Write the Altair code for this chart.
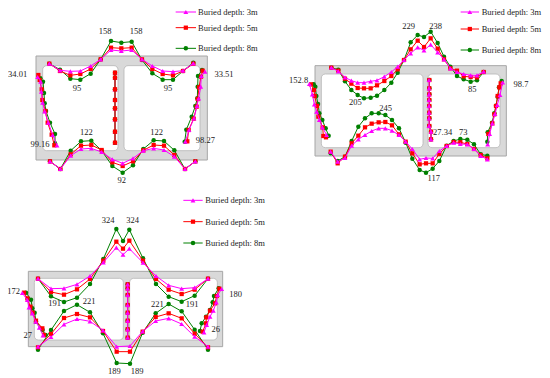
import altair as alt
import pandas as pd

# All geometry, in 3x zoomed units relative to each panel's origin.
ORIGINS = {"a": (0, 0), "b": (275, 0), "c": (0, 190)}
FONT = "Liberation Serif"
TEXT_COLOR = "#222222"
COLORS = {"3m": "#ff00ff", "5m": "#ff0000", "8m": "#008000"}
SHAPES = {"3m": "triangle-up", "5m": "square", "8m": "circle"}
SIZES = {"3m": 24, "5m": 18, "8m": 20}

# section outlines: panel, x0, x1, y0, y1
BOXES = [("a", 108, 622, 168, 480), ("b", 120, 694, 197, 468), ("c", 85, 668, 244, 470)]
VOIDS = [("a", 128, 354, 197, 452), ("a", 372, 600, 197, 452),
         ("b", 139, 444, 222, 443), ("b", 459, 675, 222, 443),
         ("c", 103, 370, 265, 450), ("c", 389, 652, 265, 450)]

# Panel a
A_TOP_X = [148, 180, 211, 241, 272, 302, 333, 364, 395, 426, 457, 488, 519, 549, 580]
A_TOP_3 = [191, 211, 214, 213, 198, 178, 150, 153, 150, 178, 198, 213, 215, 212, 190]
A_TOP_5 = [191, 213, 226, 222, 207, 178, 143, 145, 143, 178, 207, 222, 226, 213, 191]
A_TOP_8 = [191, 209, 236, 239, 221, 178, 123, 128, 125, 180, 220, 239, 239, 213, 188]
A_BOT_X = [150, 181, 212, 243, 274, 305, 337, 368, 399, 430, 461, 492, 523, 555, 586]
A_BOT_3 = [484, 507, 467, 447, 445, 456, 478, 490, 475, 452, 445, 450, 470, 507, 484]
A_BOT_5 = [484, 507, 463, 437, 435, 450, 487, 498, 484, 451, 435, 437, 465, 507, 484]
A_BOT_8 = [484, 507, 452, 424, 422, 452, 498, 518, 496, 447, 421, 423, 451, 507, 484]
A_LEFT_3 = [(113, 231), (122, 245), (124, 275), (128, 308), (134, 334), (145, 368), (158, 405), (171, 436)]
A_LEFT_5 = [(115, 225), (119, 240), (125, 268), (127, 300), (136, 333), (143, 368), (155, 404), (163, 436)]
A_LEFT_8 = [(121, 235), (129, 245), (132, 279), (134, 310), (138, 333), (150, 368), (165, 402), (165, 430)]
A_RIGHT_3 = [(615, 215), (604, 228), (602, 260), (596, 295), (591, 318), (582, 355), (567, 390), (556, 425)]
A_RIGHT_5 = [(608, 212), (603, 230), (597, 262), (593, 297), (590, 320), (581, 356), (566, 390), (562, 424)]
A_RIGHT_8 = [(606, 210), (594, 228), (593, 260), (592, 295), (586, 318), (575, 350), (559, 389), (554, 425)]
A_MID_Y = [218, 233, 268, 300, 325, 358, 395, 428]

# Panel b
B_TOP_X = [169, 190, 210, 229, 248, 267, 287, 306, 328, 349, 368, 387, 407, 428, 447, 467, 488, 507, 526, 546, 566, 587, 606, 626]
B_TOP_3 = [203, 214, 232, 242, 248, 248, 244, 241, 230, 216, 200, 180, 160, 142, 151, 134, 157, 178, 205, 216, 222, 226, 226, 215]
B_TOP_5 = [203, 212, 236, 251, 264, 265, 265, 256, 243, 228, 208, 180, 148, 122, 141, 115, 146, 178, 205, 212, 229, 231, 232, 216]
B_TOP_8 = [203, 209, 244, 270, 285, 295, 293, 287, 270, 248, 218, 180, 127, 105, 111, 95, 129, 170, 200, 228, 238, 245, 241, 216]
B_BOT_X = [167, 188, 210, 230, 250, 270, 290, 311, 331, 351, 372, 392, 412, 434, 453, 473, 493, 515, 536, 556, 577, 597, 617, 637]
B_BOT_3 = [455, 485, 474, 437, 418, 405, 393, 385, 385, 392, 405, 425, 447, 478, 474, 475, 453, 438, 428, 432, 433, 447, 468, 478]
B_BOT_5 = [455, 490, 470, 430, 407, 382, 371, 367, 366, 376, 403, 425, 460, 493, 490, 490, 462, 438, 426, 427, 432, 447, 465, 475]
B_BOT_8 = [460, 483, 470, 423, 380, 355, 340, 340, 345, 360, 385, 428, 476, 510, 518, 506, 483, 437, 423, 417, 419, 433, 463, 467]
B_LEFT_3 = [(103, 252), (112, 283), (118, 313), (125, 335), (133, 360), (142, 382), (155, 405)]
B_LEFT_5 = [(108, 253), (117, 270), (119, 288), (126, 318), (130, 350), (143, 382), (145, 408), (153, 412)]
B_LEFT_8 = [(116, 253), (121, 260), (124, 288), (129, 312), (133, 340), (142, 360), (152, 385), (161, 407)]
B_RIGHT_3 = [(683, 247), (675, 285), (667, 315), (660, 342), (652, 370), (644, 402), (638, 433)]
B_RIGHT_5 = [(677, 250), (673, 262), (668, 288), (663, 318), (658, 343), (652, 370), (640, 402)]
B_RIGHT_8 = [(680, 243), (672, 262), (668, 290), (663, 317), (658, 340), (651, 368), (638, 397), (637, 425)]
B_MID_Y = [240, 265, 283, 300, 318, 338, 355, 378, 395, 418]

# Panel c
C_TOP_X = [114, 153, 192, 231, 270, 310, 349, 369, 388, 429, 468, 506, 545, 584, 624]
C_TOP_3 = [266, 296, 295, 283, 258, 217, 173, 194, 176, 218, 258, 286, 296, 293, 266]
C_TOP_5 = [266, 306, 314, 298, 267, 212, 155, 176, 152, 212, 267, 299, 312, 299, 266]
C_TOP_8 = [266, 319, 336, 323, 282, 207, 117, 153, 119, 205, 282, 320, 335, 317, 266]
C_BOT_X = [114, 153, 192, 231, 270, 309, 350, 390, 428, 467, 506, 545, 584, 624]
C_BOT_3 = [470, 441, 403, 387, 394, 421, 470, 468, 424, 393, 385, 402, 440, 470]
C_BOT_5 = [472, 432, 384, 372, 382, 423, 485, 485, 425, 381, 370, 385, 431, 472]
C_BOT_8 = [479, 420, 363, 344, 367, 430, 519, 521, 428, 370, 342, 364, 419, 479]
C_LEFT_3 = [(67, 309), (82, 330), (87, 352), (97, 370), (107, 395), (118, 413), (129, 436)]
C_LEFT_5 = [(72, 308), (82, 325), (91, 350), (98, 368), (108, 392), (127, 415), (132, 435)]
C_LEFT_8 = [(78, 308), (93, 329), (97, 355), (104, 368), (108, 395), (128, 420), (137, 435)]
C_RIGHT_3 = [(665, 297), (653, 315), (649, 337), (640, 362), (630, 380), (620, 405), (612, 427)]
C_RIGHT_5 = [(658, 296), (650, 318), (645, 340), (630, 362), (619, 382), (618, 400), (608, 425)]
C_RIGHT_8 = [(656, 295), (642, 318), (638, 337), (630, 360), (618, 380), (605, 400), (600, 423)]
C_MID_Y = [283, 295, 315, 345, 368, 392, 418, 443]

# value labels: panel, x, y, text
LABELS = [
    ("a", 315, 92, "158"), ("a", 408, 92, "158"), ("a", 53, 223, "34.01"), ("a", 672, 223, "33.51"),
    ("a", 231, 264, "95"), ("a", 504, 264, "95"), ("a", 259, 396, "122"), ("a", 470, 396, "122"),
    ("a", 120, 433, "99.16"), ("a", 616, 421, "98.27"), ("a", 365, 540, "92"),
    ("b", 401, 78, "229"), ("b", 482, 78, "238"), ("b", 71, 239, "152.8"), ("b", 738, 251, "98.7"),
    ("b", 241, 306, "205"), ("b", 332, 325, "245"), ("b", 592, 268, "85"), ("b", 503, 396, "27.34"),
    ("b", 565, 396, "73"), ("b", 476, 535, "117"),
    ("c", 324, 90, "324"), ("c", 398, 90, "324"), ("c", 41, 304, "172"), ("c", 707, 312, "180"),
    ("c", 164, 340, "191"), ("c", 267, 332, "221"), ("c", 472, 341, "221"), ("c", 576, 341, "191"),
    ("c", 83, 435, "27"), ("c", 647, 416, "26"), ("c", 343, 544, "189"), ("c", 411, 544, "189"),
]

# legends: panel, line start, line end, text x, row y for 3m / 5m / 8m
LEGENDS = [("a", 527, 588, 594, (36, 83, 145)), ("b", 557, 612, 620, (36, 87, 150)), ("c", 550, 608, 616, (31, 95, 159))]
LEGEND_NAMES = {"3m": "Buried depth: 3m", "5m": "Buried depth: 5m", "8m": "Buried depth: 8m"}


def px(panel, x, y):
    ox, oy = ORIGINS[panel]
    return x / 3 + ox, y / 3 + oy


rows = []


def add(panel, seg, series, pts, z="main", markers=None):
    for i, (x, y) in enumerate(pts):
        X, Y = px(panel, x, y)
        mk = True if markers is None else (i in markers)
        rows.append(dict(seg=f"{panel}-{seg}-{series}", series=series, X=X, Y=Y, i=i, z=z, mk=mk))


for panel, seg, xs, trio in [
    ("a", "top", A_TOP_X, (A_TOP_3, A_TOP_5, A_TOP_8)), ("a", "bot", A_BOT_X, (A_BOT_3, A_BOT_5, A_BOT_8)),
    ("b", "top", B_TOP_X, (B_TOP_3, B_TOP_5, B_TOP_8)), ("b", "bot", B_BOT_X, (B_BOT_3, B_BOT_5, B_BOT_8)),
    ("c", "top", C_TOP_X, (C_TOP_3, C_TOP_5, C_TOP_8)), ("c", "bot", C_BOT_X, (C_BOT_3, C_BOT_5, C_BOT_8)),
]:
    for name, ys in zip(("3m", "5m", "8m"), trio):
        add(panel, seg, name, list(zip(xs, ys)))

for panel, seg, trio in [
    ("a", "left", (A_LEFT_3, A_LEFT_5, A_LEFT_8)), ("a", "right", (A_RIGHT_3, A_RIGHT_5, A_RIGHT_8)),
    ("b", "left", (B_LEFT_3, B_LEFT_5, B_LEFT_8)), ("b", "right", (B_RIGHT_3, B_RIGHT_5, B_RIGHT_8)),
    ("c", "left", (C_LEFT_3, C_LEFT_5, C_LEFT_8)), ("c", "right", (C_RIGHT_3, C_RIGHT_5, C_RIGHT_8)),
]:
    for name, pts in zip(("3m", "5m", "8m"), trio):
        add(panel, seg, name, pts)

# centre walls
for name in ("3m", "8m"):
    add("a", "mid", name, [(345, y) for y in A_MID_Y], z="under")
add("a", "mid", "5m", [(345, y) for y in A_MID_Y], z="over")
for name in ("8m", "5m"):
    add("b", "mid", name, [(463 + (i // 8) * 5, y) for i, y in enumerate(B_MID_Y)])
add("b", "mid", "3m", [(462 + (i // 8) * 6, y) for i, y in enumerate(B_MID_Y)])
for name in ("8m", "5m", "3m"):
    add("c", "mid", name, [(383, y) for y in C_MID_Y])

# legends
legend_text = []
for panel, x0, x1, tx, ys in LEGENDS:
    for name, y in zip(("3m", "5m", "8m"), ys):
        add(panel, "key", name, [(x0, y), ((x0 + x1) / 2, y), (x1, y)], markers={1})
        X, Y = px(panel, tx, y)
        legend_text.append(dict(X=X, Y=Y, text=LEGEND_NAMES[name]))

df = pd.DataFrame(rows)

xs = alt.Scale(domain=[8, 542], nice=False, zero=False)
ys = alt.Scale(domain=[8, 378], nice=False, zero=False, reverse=True)


def ex(field="X"):
    return alt.X(f"{field}:Q", scale=xs, axis=None)


def ey(field="Y"):
    return alt.Y(f"{field}:Q", scale=ys, axis=None)


box_df = pd.DataFrame([
    dict(X=px(p, x0, y0)[0], X2=px(p, x1, y0)[0], Y=px(p, x0, y0)[1], Y2=px(p, x0, y1)[1])
    for p, x0, x1, y0, y1 in BOXES
])
boxes = alt.Chart(box_df).mark_rect(fill="#d9d9d9", stroke="#a6a6a6", strokeWidth=1).encode(
    x=ex(), x2="X2:Q", y=ey(), y2="Y2:Q"
)

void_df = pd.DataFrame([
    dict(X=px(p, x0, y0)[0], X2=px(p, x1, y0)[0], Y=px(p, x0, y0)[1], Y2=px(p, x0, y1)[1])
    for p, x0, x1, y0, y1 in VOIDS
])
voids = alt.Chart(void_df).mark_rect(
    fill="#ffffff", stroke="#b5b5b5", strokeWidth=0.8, cornerRadius=4
).encode(x=ex(), x2="X2:Q", y=ey(), y2="Y2:Q")


def series_layer(data, name):
    sub = data[data.series == name]
    line = alt.Chart(sub).mark_line(color=COLORS[name], strokeWidth=1).encode(
        x=ex(), y=ey(), detail="seg:N", order="i:Q"
    )
    pts = alt.Chart(sub[sub.mk]).mark_point(
        shape=SHAPES[name], size=SIZES[name], filled=True, opacity=1, color=COLORS[name]
    ).encode(x=ex(), y=ey())
    return line + pts


under = df[df.z == "under"]
main = df[df.z == "main"]
over = df[df.z == "over"]

layers = [boxes, voids]
for name in ("3m", "8m"):
    layers.append(series_layer(under, name))
for name in ("8m", "5m", "3m"):
    layers.append(series_layer(main, name))
layers.append(series_layer(over, "5m"))

label_df = pd.DataFrame([
    dict(X=px(p, x, y)[0], Y=px(p, x, y)[1], text=t) for p, x, y, t in LABELS
])
labels = alt.Chart(label_df).mark_text(
    font=FONT, fontSize=8.5, color=TEXT_COLOR, align="center", baseline="middle"
).encode(x=ex(), y=ey(), text="text:N")
legend_labels = alt.Chart(pd.DataFrame(legend_text)).mark_text(
    font=FONT, fontSize=8.5, color=TEXT_COLOR, align="left", baseline="middle"
).encode(x=ex(), y=ey(), text="text:N")

chart = alt.layer(*layers, labels, legend_labels).properties(
    width=534, height=370, padding=0, autosize=alt.AutoSizeParams(type="none"), background="white"
).configure_view(stroke=None)

chart.save("out.html", embed_options={"renderer": "svg", "actions": False})
